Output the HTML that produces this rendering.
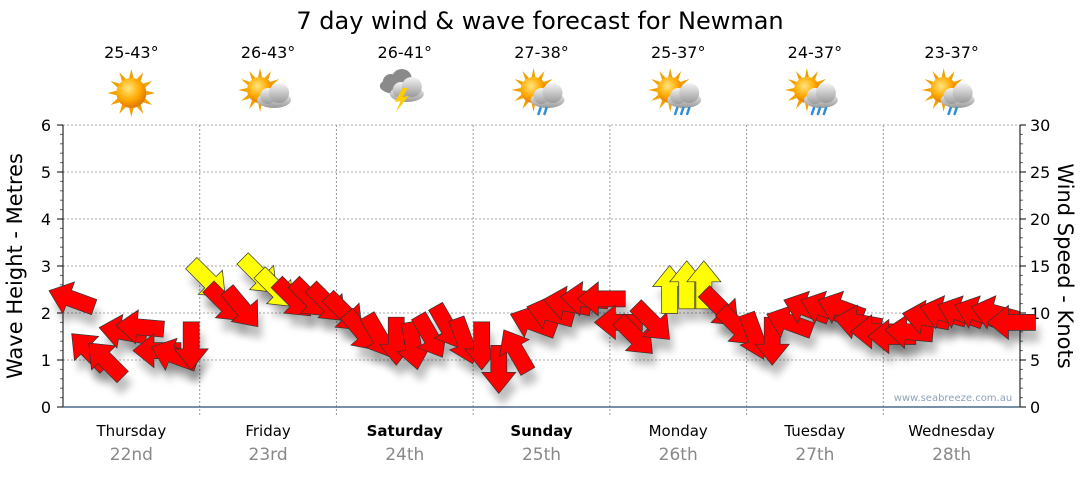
<!DOCTYPE html>
<html><head><meta charset="utf-8"><style>
body{margin:0;background:#fff;font-family:"Liberation Sans",sans-serif}
svg text{font-family:"DejaVu Sans","Liberation Sans",sans-serif}
</style></head><body>
<svg id="c" width="1080" height="475" xmlns="http://www.w3.org/2000/svg">
<defs>
<filter id="sh" x="-50%" y="-50%" width="200%" height="200%"><feGaussianBlur stdDeviation="4"/></filter>
<radialGradient id="sun" cx="40%" cy="35%" r="65%"><stop offset="0" stop-color="#ffe680"/><stop offset="0.6" stop-color="#ffaa00"/><stop offset="1" stop-color="#e07800"/></radialGradient>
<linearGradient id="cloud" x1="0" y1="0" x2="0" y2="1"><stop offset="0" stop-color="#f4f4f4"/><stop offset="1" stop-color="#9a9a9a"/></linearGradient>
</defs>
<text x="540" y="29" text-anchor="middle" font-size="24" fill="#000">7 day wind &amp; wave forecast for Newman</text>
<g id="grid"></g><g id="axes"></g><g id="icons"></g>
<g id="shadows"></g><g id="arrows"></g>
<text x="953" y="401" text-anchor="middle" font-size="10" fill="#8fa3b8">www.seabreeze.com.au</text>
<text transform="translate(22,266) rotate(-90)" text-anchor="middle" font-size="21">Wave Height - Metres</text>
<text transform="translate(1058,266) rotate(90)" text-anchor="middle" font-size="21">Wind Speed - Knots</text>
</svg>
<script>
const days=["Thursday","Friday","Saturday","Sunday","Monday","Tuesday","Wednesday"];
const dates=["22nd","23rd","24th","25th","26th","27th","28th"];
const temps=["25-43°","26-43°","26-41°","27-38°","25-37°","24-37°","23-37°"];
const icons=["sun","cloudsun","storm","rainsun","rainsun","rainsun","rainsun"];
const waveTicks=[0,1,2,3,4,5,6];
const windTicks=[0,5,10,15,20,25,30];
const windKnots=[11.5,6,5,8,8.5,6,5.5,6.5, 13.5,11,10.5,14,12.5,11.5,11.5,11, 10,8,7.5,7,6.5,7.5,8.5,7, 6.5,4,6,9,10,11,11.5,11.5, 9,7.5,9,12.5,13,13,10.5,8.5, 7.5,7,9,10.5,10.5,10.5,9,8, 7.5,8,9.5,10,10,10,10,9];
const windDir=[200,225,225,190,185,180,200,90, 45,45,50,45,45,45,45,45, 45,50,60,90,80,60,60,70, 90,90,240,200,195,190,185,180, 180,45,45,270,270,270,45,45, 70,90,200,200,200,200,190,180, 180,185,190,195,200,200,195,180];
const NS="http://www.w3.org/2000/svg";
const X0=63,X1=1020,Y0=407,Y1=125;
const dayW=(X1-X0)/7;
const yW=v=>Y0-(v/6)*(Y0-Y1);
const yK=v=>Y0-(v/30)*(Y0-Y1);
const xI=i=>X0+(i+0.5)*(X1-X0)/windKnots.length;
function mk(tag,attrs,parent){const e=document.createElementNS(NS,tag);for(const k in attrs)e.setAttribute(k,attrs[k]);parent.appendChild(e);return e;}
const grid=document.getElementById('grid'),axes=document.getElementById('axes');
waveTicks.forEach(v=>{if(v>0){const l=mk('line',{x1:X0,x2:X1,y1:yW(v),y2:yW(v),stroke:'#aaa','stroke-dasharray':'2,2'},grid);

}
const t=mk('text',{x:X0-12,y:yW(v)+6,'text-anchor':'end','font-size':16},axes);t.textContent=v;


mk('line',{x1:X0-6,x2:X0,y1:yW(v),y2:yW(v),stroke:'#000'},axes);
if(v<6)for(let m=1;m<5;m++)mk('line',{x1:X0-3,x2:X0,y1:yW(v+m/5),y2:yW(v+m/5),stroke:'#666'},axes);});
windTicks.forEach(v=>{const t=mk('text',{x:X1+10,y:yK(v)+6,'font-size':16},axes);t.textContent=v;


mk('line',{x1:X1,x2:X1+6,y1:yK(v),y2:yK(v),stroke:'#000'},axes);
if(v<30)for(let m=1;m<5;m++)mk('line',{x1:X1,x2:X1+3,y1:yK(v+m),y2:yK(v+m),stroke:'#666'},axes);});
mk('line',{x1:X0,x2:X0,y1:Y1,y2:Y0,stroke:'#000'},axes);
mk('line',{x1:X1,x2:X1,y1:Y1,y2:Y0,stroke:'#000'},axes);
mk('line',{x1:X0,x2:X1,y1:Y0,y2:Y0,stroke:'#4a6a8a','stroke-width':1.5},axes);
const iconG=document.getElementById('icons');
function sun(g,cx,cy,r){for(let a=0;a<360;a+=30){const rad=a*Math.PI/180;mk('polygon',{points:`${cx+Math.cos(rad-0.15)*r},${cy+Math.sin(rad-0.15)*r} ${cx+Math.cos(rad)*(r+9)},${cy+Math.sin(rad)*(r+9)} ${cx+Math.cos(rad+0.15)*r},${cy+Math.sin(rad+0.15)*r}`,fill:'#f0a000'},g);}mk('circle',{cx,cy,r,fill:'url(#sun)'},g);}
function cloud(g,cx,cy,dark){const f=dark?'#8a8a8a':'url(#cloud)';mk('ellipse',{cx:cx,cy:cy+4,rx:17,ry:8,fill:f},g);mk('circle',{cx:cx-6,cy:cy,r:8,fill:f},g);mk('circle',{cx:cx+5,cy:cy-3,r:10,fill:f},g);}
days.forEach((d,i)=>{const cx=X0+dayW*(i+0.5);
if(i>0){const l=mk('line',{x1:X0+dayW*i,x2:X0+dayW*i,y1:Y1,y2:Y0+8,stroke:'#999','stroke-dasharray':'2,2'},grid);

}
const t=mk('text',{x:cx,y:436,'text-anchor':'middle','font-size':15,'font-weight':(i==2||i==3)?'bold':'normal'},axes);t.textContent=d;


const t2=mk('text',{x:cx,y:460,'text-anchor':'middle','font-size':17,fill:'#888'},axes);t2.textContent=dates[i];


const t3=mk('text',{x:cx,y:58,'text-anchor':'middle','font-size':16},axes);t3.textContent=temps[i];


const g=mk('g',{},iconG);


const ic=icons[i];
if(ic=='sun'){sun(g,cx,93,15);}
else if(ic=='storm'){cloud(g,cx-8,82,true);cloud(g,cx+2,90,false);mk('polygon',{points:`${cx-2},${88} ${cx-10},${102} ${cx-4},${101} ${cx-9},${112} ${cx+4},${96} ${cx-2},${97} ${cx+3},${88}`,fill:'#ffcc00'},g);}
else{sun(g,cx-8,90,13);cloud(g,cx+6,96,false);
if(ic=='rainsun')for(let k=0;k<(i==4||i==5?3:2);k++)mk('path',{d:`M${cx+k*6-1} ${108} l-2 6`,stroke:'#2a8fd8','stroke-width':2.5,'stroke-linecap':'round'},g);}
});
const arrowG=document.getElementById('arrows'),shG=document.getElementById('shadows');
const arrowPts="-24,-8 3,-8 3,-17 24,0 3,17 3,8 -24,8";
windKnots.forEach((k,i)=>{const x=xI(i),y=yK(k),a=windDir[i];
const s=mk('polygon',{points:arrowPts,transform:`translate(${x+4},${y+12}) rotate(${a})`,fill:'#000',opacity:0.25,filter:'url(#sh)'},shG);


const p=mk('polygon',{points:arrowPts,transform:`translate(${x},${y}) rotate(${a})`,fill:k>=12.5?'#ffff00':'#ff0000',stroke:'#333','stroke-width':0.7},arrowG);


});
</script>
</body></html>
